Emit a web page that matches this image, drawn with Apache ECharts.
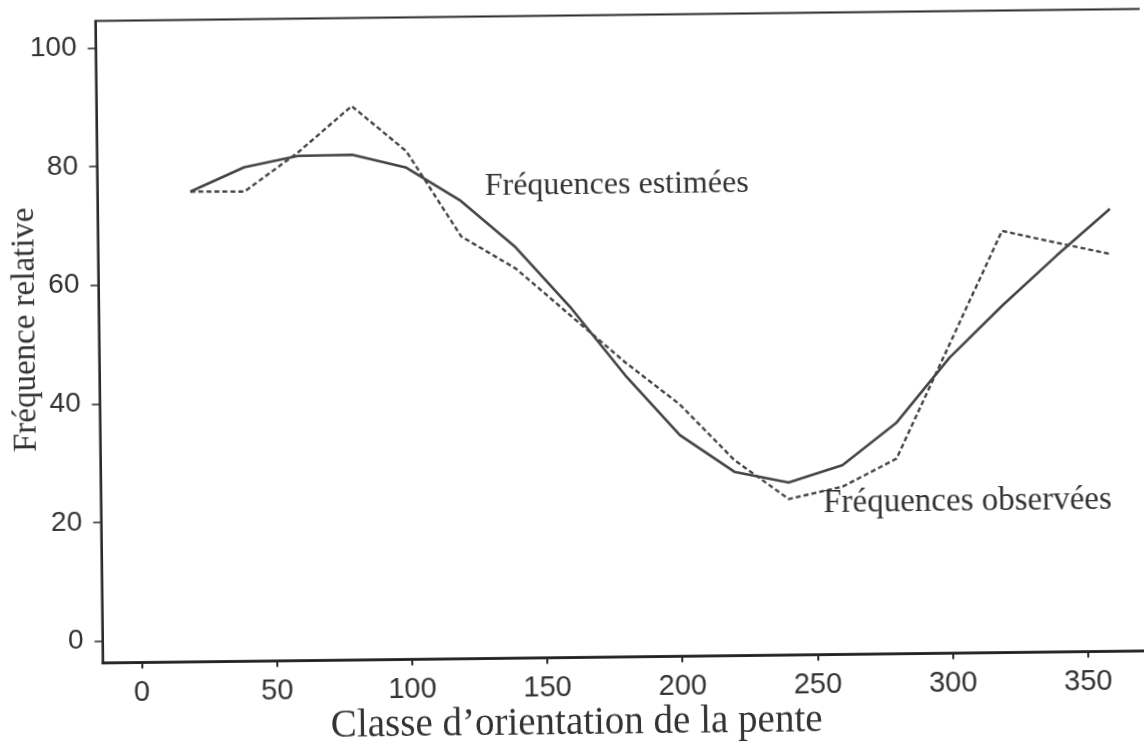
<!DOCTYPE html>
<html>
<head>
<meta charset="utf-8">
<script src="https://cdn.jsdelivr.net/npm/echarts@6/dist/echarts.min.js"></script>
<style>
  html, body { margin: 0; padding: 0; background: #ffffff; overflow: hidden; }
  #chart { width: 1144px; height: 751px; transform: rotate(-0.66deg); transform-origin: 50% 50%; }
</style>
</head>
<body>
<div id="chart"></div>
<script>
// Classes d'orientation de la pente (degrés)
const orientation = [20, 40, 60, 80, 100, 120, 140, 160, 180, 200, 220, 240, 260, 280, 300, 320, 340, 360];
// Fréquences relatives estimées (trait plein)
const estimees = [75.6, 79.6, 81.4, 81.5, 79.2, 73.5, 65.6, 55.4, 43.8, 33.6, 27.3, 25.4, 28.2, 35.2, 46.1, 54.9, 63.1, 70.9];
// Fréquences relatives observées (tirets)
const observees = [75.6, 75.5, 82.0, 89.7, 82.0, 67.5, 62.0, 54.0, 46.0, 38.8, 29.3, 22.6, 24.6, 29.2, 48.3, 67.4, 65.3, 63.3];
// Graduations des axes
const xTicks = [0, 50, 100, 150, 200, 250, 300, 350];
const yTicks = [0, 20, 40, 60, 80, 100];
// Textes et points d'ancrage (coordonnées de données) des étiquettes de courbes
const labelEstimees = 'Fréquences estimées';
const anchorEstimees = [128.9, 75.8];
const labelObservees = 'Fréquences observées';
const anchorObservees = [252.7, 21.8];

const ink = '#333333';
const lineInk = '#454545';
const serif = '"Liberation Serif", "Times New Roman", serif';
const sans = '"Liberation Sans", Arial, sans-serif';

const chart = echarts.init(document.getElementById('chart'), null, { renderer: 'canvas' });

function pairs(xs, ys) { return xs.map((x, i) => [x, ys[i]]); }

function curveLabel(text, anchor, size) {
  return {
    symbol: 'circle',
    symbolSize: 0,
    silent: true,
    animation: false,
    label: {
      show: true,
      position: 'right',
      distance: 0,
      formatter: text,
      fontFamily: serif,
      fontSize: size,
      color: ink
    },
    data: [{ coord: anchor }]
  };
}

chart.setOption({
  animation: false,
  backgroundColor: '#ffffff',
  grid: {
    show: true,
    left: 99.5,
    top: 15.5,
    width: 1066.4,
    height: 642.1,
    borderColor: '#2a2a2a',
    borderWidth: 2.2,
    backgroundColor: 'transparent',
    containLabel: false,
    outerBoundsMode: 'none'
  },
  xAxis: {
    type: 'value',
    min: -14.4,
    max: 380,
    name: 'Classe d\u2019orientation de la pente',
    nameLocation: 'middle',
    nameGap: 47,
    nameMoveOverlap: false,
    nameTextStyle: { fontFamily: serif, fontSize: 39, color: ink, padding: [0, 120, 0, 0] },
    axisLine: { show: true, onZero: false, lineStyle: { color: '#1e1e1e', width: 2.5 } },
    axisTick: { show: true, length: 6, customValues: xTicks, lineStyle: { color: '#2a2a2a', width: 2 } },
    axisLabel: { show: true, customValues: xTicks, margin: 16, fontFamily: sans, fontSize: 29, color: ink },
    splitLine: { show: false }
  },
  yAxis: {
    type: 'value',
    min: -3.71,
    max: 104.55,
    name: 'Fréquence relative',
    nameLocation: 'middle',
    nameRotate: 90,
    nameGap: 57,
    nameMoveOverlap: false,
    nameTextStyle: { fontFamily: serif, fontSize: 33, color: ink, padding: [0, 0, 0, 26] },
    axisLine: { show: true, onZero: false, lineStyle: { color: '#2a2a2a', width: 2 } },
    axisTick: { show: true, length: 8, customValues: yTicks, lineStyle: { color: '#2a2a2a', width: 1.5 } },
    axisLabel: { show: true, customValues: yTicks, margin: 19, fontFamily: sans, fontSize: 28, color: ink, padding: [0, 0, 14, 0] },
    splitLine: { show: false }
  },
  series: [
    {
      name: labelEstimees,
      type: 'line',
      data: pairs(orientation, estimees),
      symbol: 'none',
      lineStyle: { color: lineInk, width: 2.6, type: 'solid' },
      markPoint: curveLabel(labelEstimees, anchorEstimees, 32)
    },
    {
      name: labelObservees,
      type: 'line',
      data: pairs(orientation, observees),
      symbol: 'none',
      lineStyle: { color: lineInk, width: 2.4, type: [5, 3] },
      markPoint: curveLabel(labelObservees, anchorObservees, 33)
    }
  ]
});
</script>
</body>
</html>
